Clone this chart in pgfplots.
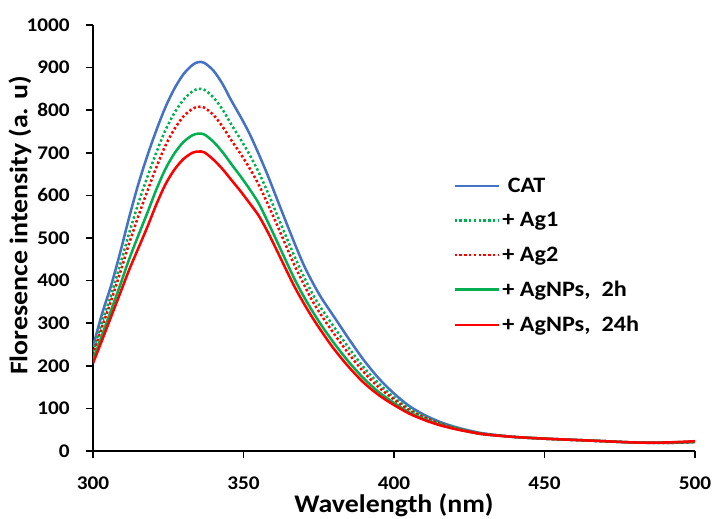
\documentclass[border=0pt]{standalone}
\usepackage{fontspec}
\setmainfont{Carlito}[FakeStretch=1.1]
\usepackage{pgfplots}
\usepackage{pgfplotstable}
\pgfplotsset{compat=1.18}

\definecolor{catblue}{RGB}{68,114,196}
\definecolor{exgreen}{RGB}{0,176,80}
\definecolor{exred}{RGB}{255,0,0}

% wavelength, CAT, +Ag1, +Ag2, +AgNPs 2h, +AgNPs 24h
\pgfplotstableread{
x   cat  agone agtwo np2  np24
300 245  233   226   214  206
303 322  303   291   272  260
306 388  366   352   330  315
309 465  437   418   389  370
312 548  511   487   450  425
315 625  580   550   505  475
318 692  642   609   558  525
321 752  700   665   613  578
324 806  752   716   661  625
327 850  793   755   698  660
330 884  824   785   725  685
333 906  844   803   741  700
335 913  850   808   745  703
337 911  848   806   743  701
340 893  830   789   726  684
343 862  802   762   702  662
346 822  766   729   673  636
349 785  732   698   645  610
352 745  696   664   615  582
355 698  655   626   582  553
358 648  608   581   539  515
361 594  557   533   494  472
364 540  506   484   448  428
367 487  456   435   403  385
370 437  410   392   363  347
373 395  368   351   327  312
376 358  333   317   294  280
380 316  292   276   254  240
385 263  242   228   209  197
390 213  196   185   170  160
395 170  158   149   138  131
400 135  126   121   113  108
405 106  100   96    91   88
410 85   81    79    75   73
415 69   66    65    62   61
420 57   56    54    53   52
425 48   47    46    45   45
430 41   40    40    39   39
440 33   33    33    33   33
450 29   29    29    29   29
460 26   26    26    26   26
470 23   23    23    23   23
480 20   20    20    20   20
490 19   19    19    20   20
500 21   21    21    22   23
}\spectra

\begin{document}
\begin{tikzpicture}
\begin{axis}[
    scale only axis,
    width=451.5pt, height=319.5pt,
    xmin=300, xmax=500, ymin=0, ymax=1000,
    xtick={300,350,...,500},
    ytick={0,100,...,1000},
    axis lines=left,
    axis line style={-, line width=1.2pt, black},
    tick align=outside,
    major tick length=5pt,
    tick style={line width=1.2pt, black},
    /pgf/number format/assume math mode=true,
    /pgf/number format/1000 sep={},
    tick label style={font=\fontsize{14.5}{17}\selectfont\bfseries},
    xticklabel style={yshift=-10.5pt},
    yticklabel style={xshift=-9pt},
    label style={font=\fontsize{19}{22}\selectfont\bfseries},
    xlabel={Wavelength (nm)},
    ylabel={Floresence intensity (a. u)},
    xlabel style={at={(axis description cs:0.5,-0.127)}, anchor=center},
    ylabel style={at={(axis description cs:-0.1213,0.53)}, anchor=center},
    legend style={at={(0.598,0.648)}, anchor=north west, draw=none, fill=none,
        font=\fontsize{16.5}{19}\selectfont\bfseries, row sep=9.5pt,
        inner sep=0pt, cells={anchor=west}},
    legend image code/.code={\draw[#1, line width=1.9pt] (0pt,0pt) -- (33pt,0pt);},
    spec/.style={line width=1.9pt, line join=round, smooth, tension=0.5},
]
\addplot[spec, catblue] table[x=x, y=cat] {\spectra};
\addlegendentry{\hspace{4pt}CAT}
\addplot[spec, exgreen, dash pattern=on 1.8pt off 1.8pt] table[x=x, y=agone] {\spectra};
\addlegendentry{+ Ag1}
\addplot[spec, exred, dash pattern=on 1.8pt off 1.8pt] table[x=x, y=agtwo] {\spectra};
\addlegendentry{+ Ag2}
\addplot[spec, exgreen] table[x=x, y=np2] {\spectra};
\addlegendentry{+ AgNPs,\ \ 2h}
\addplot[spec, exred] table[x=x, y=np24] {\spectra};
\addlegendentry{+ AgNPs,\ \ 24h}
\end{axis}
\pgfresetboundingbox
\path[use as bounding box] ([shift={(-69.75pt,-50.25pt)}]current axis.south west)
    rectangle ([shift={(13.5pt,18.75pt)}]current axis.north east);
\end{tikzpicture}
\end{document}
